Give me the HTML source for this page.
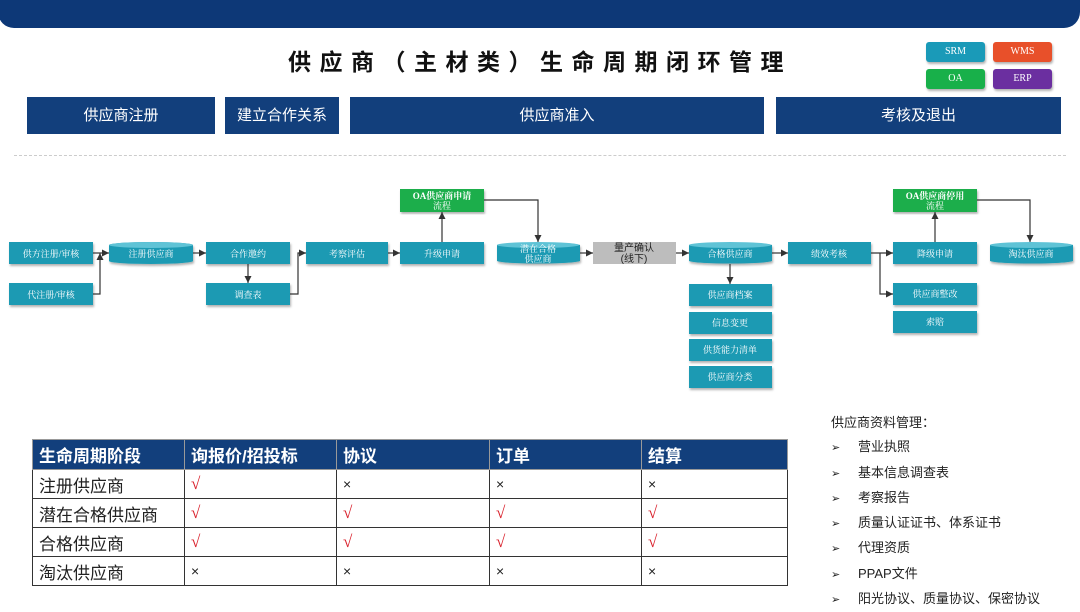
<!DOCTYPE html>
<html><head><meta charset="utf-8"><style>
body{margin:0;width:1080px;height:608px;background:#fff;position:relative;overflow:hidden;font-family:"Liberation Sans","Noto Sans CJK SC",sans-serif}
.ban{position:absolute;left:-2px;top:-20px;width:1082px;height:48px;background:#0d3877;border-radius:0 0 16px 16px}
.title{position:absolute;left:240px;top:43px;width:600px;text-align:center;font-size:23px;font-weight:bold;letter-spacing:8.5px;color:#111}
.bd{position:absolute;width:59px;height:20px;border-radius:3px;color:#fff;font-family:"Liberation Serif",serif;font-size:10px;text-align:center;line-height:20px;box-shadow:1px 2px 2px rgba(0,0,0,.3)}
.hd{position:absolute;top:97px;height:37px;background:#123f7c;color:#fff;font-size:15px;text-align:center;line-height:37px}
.dot{position:absolute;left:14px;top:155px;width:1052px;border-top:1px dashed #ccc}
table{position:absolute;left:32px;top:439px;width:756px;border-collapse:collapse;font-size:17px}
td{border:1px solid #333;height:28px;padding:0 0 0 6px;color:#222}
tr:first-child td{background:#123f7c;color:#fff;font-weight:bold;height:29px;border-color:#999}
.r{color:#d9202b;font-family:"Liberation Serif",serif}
.x{font-size:14px}
.lst{position:absolute;left:831px;top:411px;font-size:13px;color:#222;line-height:24.3px}
.lst span{display:inline-block;width:27px;font-size:11px}
</style></head><body>
<div class="ban"></div>
<div class="title">供应商（主材类）生命周期闭环管理</div>
<div class="bd" style="left:926px;top:42px;background:#1a9ab8">SRM</div>
<div class="bd" style="left:993px;top:42px;background:#e8502a">WMS</div>
<div class="bd" style="left:926px;top:69px;background:#18b04a">OA</div>
<div class="bd" style="left:993px;top:69px;background:#6b2fa0">ERP</div>
<div class="hd" style="left:27px;width:188px">供应商注册</div>
<div class="hd" style="left:225px;width:114px">建立合作关系</div>
<div class="hd" style="left:350px;width:414px">供应商准入</div>
<div class="hd" style="left:776px;width:285px">考核及退出</div>
<div class="dot"></div>
<svg style="position:absolute;left:0;top:0" width="1080" height="608" font-family="'Liberation Serif','Noto Serif CJK SC',serif">
<defs><marker id="a" markerWidth="8" markerHeight="8" refX="7" refY="4" orient="auto" markerUnits="userSpaceOnUse"><path d="M0,0.5L7,4L0,7.5z" fill="#333"/></marker>
<filter id="s"><feDropShadow dx="1" dy="2" stdDeviation="1" flood-opacity=".3"/></filter></defs>
<g fill="#1b9ab3" filter="url(#s)">
<rect x="9" y="242" width="84" height="22"/><rect x="9" y="283" width="84" height="22"/>
<rect x="206" y="242" width="84" height="22"/><rect x="206" y="283" width="84" height="22"/>
<rect x="306" y="242" width="82" height="22"/><rect x="400" y="242" width="84" height="22"/>
<rect x="689" y="284" width="83" height="22"/><rect x="689" y="312" width="83" height="22"/>
<rect x="689" y="339" width="83" height="22"/><rect x="689" y="366" width="83" height="22"/>
<rect x="788" y="242" width="83" height="22"/><rect x="893" y="242" width="84" height="22"/>
<rect x="893" y="283" width="84" height="22"/><rect x="893" y="311" width="84" height="22"/>
<path d="M109,245 a42,3 0 0 1 84,0 v16 a42,3 0 0 1 -84,0z"/>
<path d="M497,245 a42,3 0 0 1 83,0 v16 a42,3 0 0 1 -83,0z"/>
<path d="M689,245 a42,3 0 0 1 83,0 v16 a42,3 0 0 1 -83,0z"/>
<path d="M990,245 a42,3 0 0 1 83,0 v16 a42,3 0 0 1 -83,0z"/>
</g>
<g fill="#5fc3d6"><ellipse cx="151" cy="245" rx="42" ry="3"/><ellipse cx="538" cy="245" rx="41" ry="3"/><ellipse cx="730" cy="245" rx="41" ry="3"/><ellipse cx="1031" cy="245" rx="41" ry="3"/></g>
<g fill="#1fae4b" filter="url(#s)"><rect x="400" y="189" width="84" height="23"/><rect x="893" y="189" width="84" height="23"/></g>
<rect x="593" y="242" width="83" height="22" fill="#bdbdbd"/>
<g fill="#fff" font-size="9" text-anchor="middle">
<text x="51" y="257">供方注册/审核</text><text x="51" y="298">代注册/审核</text>
<text x="151" y="257">注册供应商</text><text x="248" y="257">合作邀约</text><text x="248" y="298">调查表</text>
<text x="347" y="257">考察评估</text><text x="442" y="257">升级申请</text>
<text x="538" y="252">潜在合格</text><text x="538" y="262">供应商</text>
<text x="730" y="257">合格供应商</text><text x="730" y="298">供应商档案</text><text x="730" y="326">信息变更</text>
<text x="730" y="353">供货能力清单</text><text x="730" y="380">供应商分类</text>
<text x="829" y="257">绩效考核</text><text x="935" y="257">降级申请</text><text x="935" y="297">供应商整改</text><text x="935" y="325">索赔</text>
<text x="1031" y="257">淘汰供应商</text>
<text x="442" y="199" font-weight="bold">OA供应商申请</text><text x="442" y="209">流程</text>
<text x="935" y="199" font-weight="bold">OA供应商停用</text><text x="935" y="209">流程</text>
</g>
<g fill="#222" font-size="10" text-anchor="middle" font-family="'Liberation Sans','Noto Sans CJK SC',sans-serif"><text x="634" y="251">量产确认</text><text x="634" y="262">(线下)</text></g>
<g stroke="#333" stroke-width="1.2" fill="none" marker-end="url(#a)">
<path d="M93,253H109"/><path d="M93,294H100V253"/>
<path d="M193,253H206"/><path d="M248,264V283"/><path d="M290,294H298V253H306"/>
<path d="M388,253H400"/><path d="M442,242V212"/><path d="M484,200H538V242"/>
<path d="M580,253H593"/><path d="M676,253H689"/><path d="M730,264V284"/>
<path d="M772,253H788"/><path d="M871,253H893"/><path d="M880,253V294H893"/>
<path d="M935,242V212"/><path d="M977,200H1030V242"/>
</g>
</svg>
<table>
<tr><td style="width:145px">生命周期阶段</td><td style="width:145px">询报价/招投标</td><td style="width:146px">协议</td><td style="width:145px">订单</td><td>结算</td></tr>
<tr><td>注册供应商</td><td class="r">√</td><td class="x">×</td><td class="x">×</td><td class="x">×</td></tr>
<tr><td>潜在合格供应商</td><td class="r">√</td><td class="r">√</td><td class="r">√</td><td class="r">√</td></tr>
<tr><td>合格供应商</td><td class="r">√</td><td class="r">√</td><td class="r">√</td><td class="r">√</td></tr>
<tr><td>淘汰供应商</td><td class="x">×</td><td class="x">×</td><td class="x">×</td><td class="x">×</td></tr>
</table>
<div class="lst">供应商资料管理：<br><span>➢</span>营业执照<br><span>➢</span>基本信息调查表<br><span>➢</span>考察报告<br><span>➢</span>质量认证证书、体系证书<br><span>➢</span>代理资质<br><span>➢</span>PPAP文件<br><span>➢</span>阳光协议、质量协议、保密协议</div>
</body></html>
